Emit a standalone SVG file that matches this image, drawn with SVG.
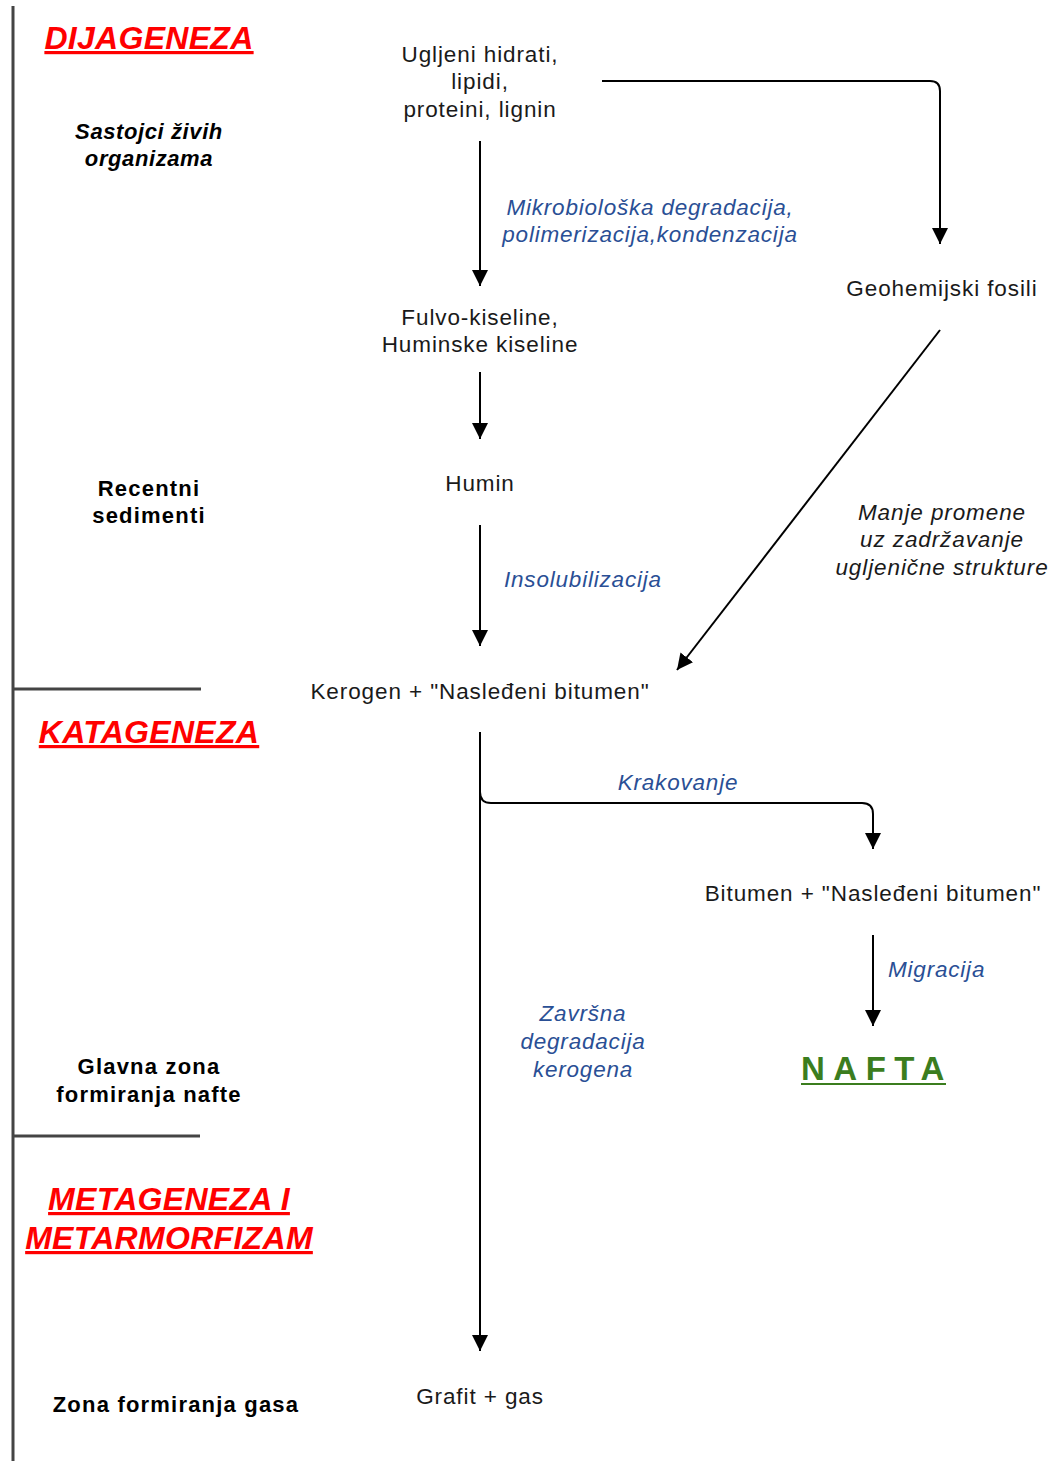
<svg xmlns="http://www.w3.org/2000/svg" width="1056" height="1461" viewBox="0 0 1056 1461">
<style>
.n{font-family:"Liberation Sans",Arial,sans-serif;font-size:22.5px;fill:#1a1a1a;letter-spacing:0.9px;text-anchor:middle}
.lb{font-family:"Liberation Sans",Arial,sans-serif;font-size:22px;font-weight:bold;fill:#000;letter-spacing:1.2px;text-anchor:middle}
.hd{font-family:"Liberation Sans",Arial,sans-serif;font-size:32px;font-weight:bold;font-style:italic;fill:#ff0000;text-decoration:underline;text-anchor:middle;letter-spacing:0.3px}
.bl{font-family:"Liberation Sans",Arial,sans-serif;font-size:22.5px;font-style:italic;fill:#2a4f95;letter-spacing:0.8px}
.it{font-family:"Liberation Sans",Arial,sans-serif;font-size:22.5px;font-style:italic;fill:#1a1a1a;letter-spacing:0.9px;text-anchor:middle}
.c{fill:none;stroke:#000;stroke-width:2;marker-end:url(#ah)}
.sep{stroke:#444;stroke-width:3;fill:none}
</style>
<defs>
<marker id="ah" markerUnits="userSpaceOnUse" markerWidth="16" markerHeight="18" refX="16" refY="8" orient="auto">
<path d="M0,0 L16,8 L0,16 Z" fill="#000"/>
</marker>
</defs>
<rect width="1056" height="1461" fill="#fff"/>
<g id="frame">
<line class="sep" x1="13" y1="6" x2="13" y2="1461"/>
<line class="sep" x1="13" y1="689" x2="201" y2="689"/>
<line class="sep" x1="13" y1="1136" x2="200" y2="1136"/>
</g>
<g id="zones">
<text class="hd" x="149" y="49">DIJAGENEZA</text>
<text class="hd" x="149" y="743">KATAGENEZA</text>
<text class="hd" x="169" y="1210">METAGENEZA I</text>
<text class="hd" x="169" y="1249">METARMORFIZAM</text>
<text class="lb" x="149" y="139" style="font-style:italic;letter-spacing:0.6px">Sastojci živih</text>
<text class="lb" x="149" y="166" style="font-style:italic;letter-spacing:0.6px">organizama</text>
<text class="lb" x="149" y="496">Recentni</text>
<text class="lb" x="149" y="523">sedimenti</text>
<text class="lb" x="149" y="1074">Glavna zona</text>
<text class="lb" x="149" y="1102">formiranja nafte</text>
<text class="lb" x="176" y="1412">Zona formiranja gasa</text>
</g>
<g id="connectors">
<path class="c" d="M480,141 V286"/>
<path class="c" d="M602,81 H930 Q940,81 940,91 V244"/>
<path class="c" d="M480,372 V439"/>
<path class="c" d="M480,525 V646"/>
<path class="c" d="M940,330 L677,670"/>
<path class="c" d="M480,732 V1351"/>
<path class="c" d="M480,792 Q480,803 491,803 H862 Q873,803 873,814 V849"/>
<path class="c" d="M873,935 V1026"/>
</g>
<g id="node-sastojci"><text class="n" x="480" y="62">Ugljeni hidrati,</text><text class="n" x="480" y="89">lipidi,</text><text class="n" x="480" y="117">proteini, lignin</text></g>
<g id="node-fulvo"><text class="n" x="480" y="325">Fulvo-kiseline,</text><text class="n" x="480" y="352">Huminske kiseline</text></g>
<g id="node-humin"><text class="n" x="480" y="491">Humin</text></g>
<g id="node-kerogen"><text class="n" x="480" y="699">Kerogen + "Nasleđeni bitumen"</text></g>
<g id="node-geo"><text class="n" x="942" y="296">Geohemijski fosili</text></g>
<g id="node-bitumen"><text class="n" x="873" y="901">Bitumen + "Nasleđeni bitumen"</text></g>
<g id="node-nafta"><text x="801" y="1080" style="font-family:'Liberation Sans',Arial,sans-serif;font-size:33px;font-weight:bold;fill:#3b7d1e;letter-spacing:8.5px">NAFTA</text><line x1="801" y1="1084" x2="946" y2="1084" stroke="#3b7d1e" stroke-width="2"/></g>
<g id="node-grafit"><text class="n" x="480" y="1404">Grafit + gas</text></g>
<g id="labels">
<text class="bl" x="650" y="215" text-anchor="middle">Mikrobiološka degradacija,</text>
<text class="bl" x="650" y="242" text-anchor="middle">polimerizacija,kondenzacija</text>
<text class="bl" x="504" y="587">Insolubilizacija</text>
<text class="bl" x="678" y="790" text-anchor="middle">Krakovanje</text>
<text class="bl" x="888" y="977">Migracija</text>
<text class="bl" x="583" y="1021" text-anchor="middle">Završna</text>
<text class="bl" x="583" y="1049" text-anchor="middle">degradacija</text>
<text class="bl" x="583" y="1077" text-anchor="middle">kerogena</text>
<text class="it" x="942" y="520">Manje promene</text>
<text class="it" x="942" y="547">uz zadržavanje</text>
<text class="it" x="942" y="575">ugljenične strukture</text>
</g>
</svg>
